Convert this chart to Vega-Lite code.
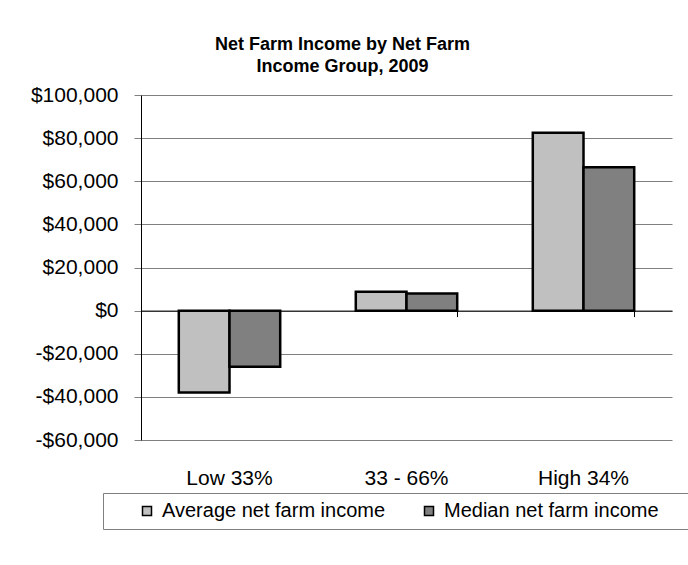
{
  "$schema": "https://vega.github.io/schema/vega-lite/v6.json",
  "width": 531,
  "height": 345,
  "autosize": {"type": "none"},
  "padding": {"left": 141, "top": 95, "right": 16, "bottom": 125},
  "background": "white",
  "config": {"font": "Liberation Sans", "view": {"stroke": null}},
  "title": {
    "text": ["Net Farm Income by Net Farm", "Income Group, 2009"],
    "fontSize": 18,
    "fontWeight": "bold",
    "color": "black",
    "anchor": "middle",
    "dx": -64,
    "offset": 8,
    "lineHeight": 22
  },
  "data": {
    "values": [
      {"group": "Low 33%", "measure": "Average net farm income", "value": -38000},
      {"group": "Low 33%", "measure": "Median net farm income", "value": -26000},
      {"group": "33 - 66%", "measure": "Average net farm income", "value": 8700},
      {"group": "33 - 66%", "measure": "Median net farm income", "value": 8000},
      {"group": "High 34%", "measure": "Average net farm income", "value": 82500},
      {"group": "High 34%", "measure": "Median net farm income", "value": 66500}
    ]
  },
  "layer": [
    {
      "mark": {"type": "bar", "stroke": "black", "strokeWidth": 2.5},
      "encoding": {
        "x": {
          "field": "group",
          "type": "nominal",
          "sort": ["Low 33%", "33 - 66%", "High 34%"],
          "scale": {"paddingInner": 0.427, "paddingOuter": 0.2135},
          "axis": {
            "orient": "bottom",
            "title": null,
            "labelAngle": 0,
            "domain": false,
            "ticks": false,
            "grid": false,
            "labelFontSize": 21,
            "labelColor": "black",
            "labelPadding": 27
          }
        },
        "xOffset": {
          "field": "measure",
          "type": "nominal",
          "sort": ["Average net farm income", "Median net farm income"],
          "scale": {"paddingInner": 0, "paddingOuter": 0}
        },
        "y": {
          "field": "value",
          "type": "quantitative",
          "scale": {"domain": [-60000, 100000], "nice": false, "zero": false},
          "axis": {
            "title": null,
            "values": [-60000, -40000, -20000, 0, 20000, 40000, 60000, 80000, 100000],
            "labelExpr": "(datum.value < 0 ? '-' : '') + '$' + format(abs(datum.value), ',')",
            "labelFontSize": 21,
            "labelColor": "black",
            "labelPadding": 16,
            "tickSize": 7,
            "tickColor": "#808080",
            "gridColor": "#808080",
            "gridWidth": 1,
            "domainColor": "black",
            "domainWidth": 1
          }
        },
        "color": {
          "field": "measure",
          "type": "nominal",
          "sort": ["Average net farm income", "Median net farm income"],
          "scale": {"range": ["#c0c0c0", "#808080"]},
          "legend": {
            "orient": "none",
            "legendX": -38,
            "legendY": 398,
            "direction": "horizontal",
            "title": " ",
            "titleOrient": "left",
            "titlePadding": 26,
            "titleFontSize": 18,
            "padding": 8,
            "strokeColor": "#808080",
            "labelFontSize": 20,
            "labelColor": "black",
            "labelLimit": 700,
            "labelOffset": 5,
            "symbolType": "square",
            "symbolSize": 81,
            "symbolStrokeColor": "black",
            "symbolStrokeWidth": 1.5,
            "columnPadding": 33,
            "labelExpr": "indexof(datum.label, 'Median') >= 0 ? datum.label + '\u2007\u2007\u2009\u200b' : datum.label"
          }
        }
      }
    },
    {
      "mark": {"type": "point", "opacity": 0},
      "encoding": {
        "x": {
          "field": "group",
          "type": "nominal",
          "sort": ["Low 33%", "33 - 66%", "High 34%"],
          "axis": {
            "orient": "bottom",
            "offset": -129.4,
            "title": null,
            "labels": false,
            "grid": false,
            "domain": true,
            "domainColor": "black",
            "domainWidth": 1,
            "ticks": true,
            "tickBand": "extent",
            "tickSize": 6,
            "tickColor": "black"
          }
        }
      }
    }
  ],
  "resolve": {"axis": {"x": "independent"}}
}
